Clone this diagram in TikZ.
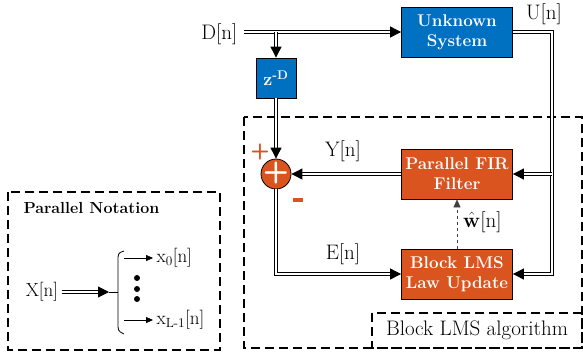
\documentclass[tikz,border=0pt]{standalone}
\usetikzlibrary{arrows.meta}
\definecolor{sysblue}{RGB}{0,112,192}
\definecolor{lmsorange}{RGB}{217,84,30}

\begin{document}
\begin{tikzpicture}[x=1pt, y=-1pt,
  font=\fontsize{21}{24}\selectfont,
  blk/.style={draw, line width=0.8pt, minimum width=111pt, minimum height=50pt,
    inner sep=0pt, align=center, text=white, font=\fontsize{17}{20}\selectfont\bfseries},
  sysblk/.style={blk, fill=sysblue},
  lmsblk/.style={blk, fill=lmsorange},
  bus/.style={double, double distance=1.5pt, line width=0.9pt, -{Triangle[length=11pt,width=11pt]}},
  frame/.style={dash pattern=on 9pt off 5pt, line width=1.3pt}
]
\useasboundingbox (0,0) rectangle (583,357);

% dashed frames
\draw[frame] (244,117) rectangle (582,348);
\draw[frame] (372,313) rectangle (582,348);
\draw[frame] (8,192) rectangle (220,350);

% blocks
\node(usys)[sysblk] at(457,32) {Unknown\\System};
\node(delay)[sysblk, minimum width=40pt, minimum height=40pt, font=\fontsize{18}{20}\selectfont\bfseries] at(276,78) {z\textsuperscript{-D}};
\node(fir)[lmsblk] at(457,174) {Parallel FIR\\Filter};
\node(lms)[lmsblk] at(457,274) {Block LMS\\Law Update};
\node(sum)[circle, draw, line width=0.8pt, fill=lmsorange, minimum size=30pt, inner sep=0pt] at(276,174) {};
\node(cross)[text=white, font=\fontsize{30}{30}\sffamily\bfseries] at(276,173) {+};

% signal labels
\node(dlab)[anchor=east] at(241,34) {D[n]};
\node(ulab) at(544,14) {U[n]};
\node(ylab) at(343,151) {Y[n]};
\node(elab) at(343,254) {E[n]};
\node(wlab)[anchor=west, inner sep=1pt] at(462,222) {$\hat{\mathbf{w}}$[n]};
\node(plus)[text=lmsorange, font=\fontsize{22}{22}\sffamily\bfseries] at(260,152) {+};
\node(minus)[fill=lmsorange, minimum width=10pt, minimum height=3.5pt, inner sep=0pt] at(298,200) {};
\node(alg) at(477,330) {Block LMS algorithm};

% corner points
\coordinate(din) at(244,32);
\coordinate(tap) at(276,32);
\coordinate(uc) at(552,32);
\coordinate(fc) at(552,174);
\coordinate(lc) at(552,274);
\coordinate(ec) at(276,274);

\draw[bus] (din) -- (usys.west);
\draw[bus] (tap) -- (delay.north);
\draw[bus] (delay.south) -- (sum.north);
\draw[bus] (usys.east) -- (uc) -- (lc) -- (lms.east);
\draw[bus] (fc) -- (fir.east);
\draw[bus] (fir.west) -- (sum.east);
\draw[bus] (sum.south) -- (ec) -- (lms.west);
\draw[dashed, black!75, -{Triangle[length=8pt,width=7pt]}] (lms.north) -- (fir.south);

% parallel notation
\begin{scope}[font=\fontsize{19}{22}\selectfont]
\node(ptitle)[anchor=west, font=\fontsize{16}{18}\selectfont\bfseries] at(20,208) {Parallel Notation};
\node(xin) at(42,292) {X[n]};
\node(x0)[anchor=west] at(153,258) {x\textsubscript{0}[n]};
\node(xl)[anchor=west] at(153,320) {x\textsubscript{L-1}[n]};
\coordinate(split) at(109,292);
\coordinate(top) at(124,258);
\coordinate(bot) at(124,320);
\draw[bus] (xin.east) -- (split);
\draw[line width=0.8pt] (split) -- (118,292);
\draw[line width=0.8pt] (124,251) .. controls (118,253) .. (118,262) -- (118,322) .. controls (118,331) .. (124,334);
\foreach \u \v in {top/x0, bot/xl}{
	\draw[-{Triangle[length=7pt,width=6pt]}] (\u) -- (\v);
}
\foreach \y in {278,289,299}{
	\fill (137,\y) circle (3pt);
}
\end{scope}

\end{tikzpicture}
\end{document}
